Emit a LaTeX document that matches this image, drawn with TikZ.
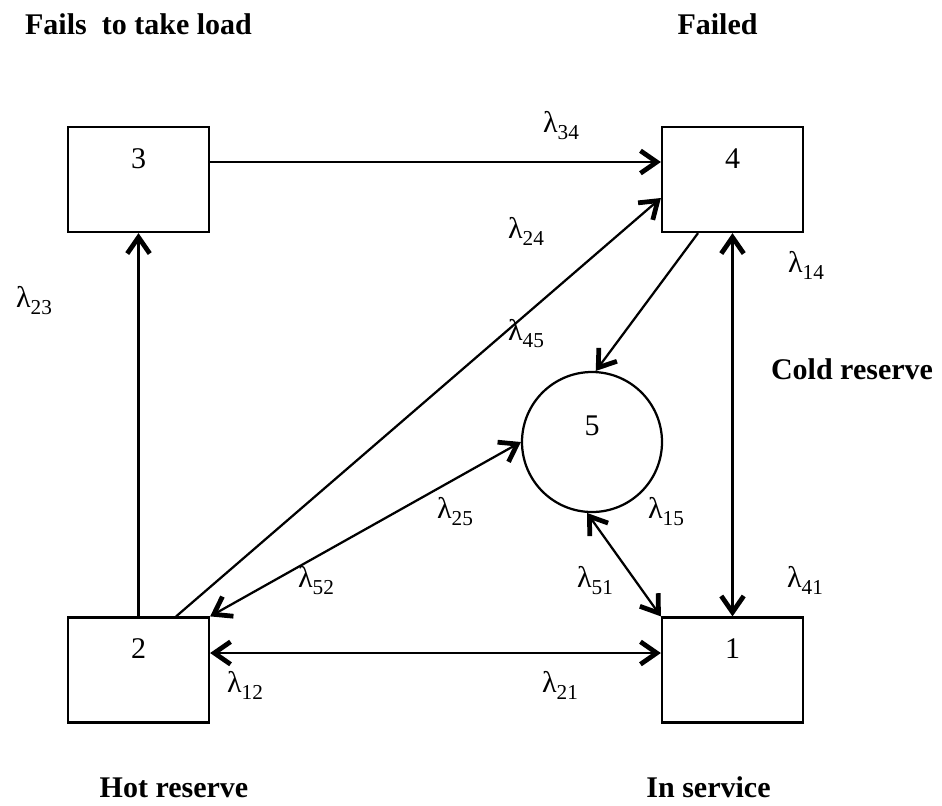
\documentclass[tikz,border=0pt]{standalone}
\usepackage{fontspec}
\setmainfont{Liberation Serif}
\usepackage{tikz}
\usetikzlibrary{arrows.meta}

\newcommand{\lam}[1]{λ\raisebox{-3pt}{\fontsize{8.5}{9}\selectfont #1}}

\begin{document}
\begin{tikzpicture}[x=4pt,y=-4pt,line width=0.9pt,
    font=\fontsize{12}{14}\selectfont,
    >={Straight Barb[length=6.5pt,width=9pt,line width=1.9pt]},
    state/.style={draw,rectangle,inner sep=0pt,minimum width=56.4pt,
        minimum height=42pt,text height=16.4pt,text depth=25.6pt},
    absorb/.style={draw,circle,inner sep=0pt,minimum size=56pt,
        text height=8pt,text depth=13.6pt},
    rate/.style={anchor=base west,inner sep=0pt},
    title/.style={anchor=base,inner sep=0pt,font=\fontsize{12}{14}\selectfont\bfseries}]
            \useasboundingbox (0,0) rectangle (94.2,80.5);
            \node[state] (s3) at (13.85,17.95) {3};
            \node[state] (s4) at (73.25,17.95) {4};
            \node[state] (s2) at (13.85,67) {2};
            \node[state] (s1) at (73.25,67) {1};
            \node[absorb] (s5) at (59.2,44.2) {5};
            \draw[->] ([yshift=7pt]s3.east) -- ([yshift=7pt]s4.west);
            \draw[->] (s2.north) -- (s3.south);
            \draw[<->] ([yshift=6.8pt]s2.east) -- ([yshift=6.8pt]s1.west);
            \draw[<->] (s1.north) -- (s4.south);
            \draw[->] ([xshift=-13.6pt]s2.north east) -- ([yshift=-7.4pt]s4.west);
            \draw[->] ([xshift=-13.8pt]s4.south) -- (s5.87);
            \draw[<->] (s2.north east) -- (s5.west);
            \draw[<->] (s5.266) -- (s1.north west);
            \node[rate] (l23) at (1.5,30.7) {\lam{23}};
            \node[rate] (l34) at (54.2,13.2) {\lam{34}};
            \node[rate] (l24) at (50.7,23.8) {\lam{24}};
            \node[rate] (l14) at (78.7,27.2) {\lam{14}};
            \node[rate] (l45) at (50.7,34.0) {\lam{45}};
            \node[rate] (l15) at (64.7,51.8) {\lam{15}};
            \node[rate] (l51) at (57.6,58.7) {\lam{51}};
            \node[rate] (l41) at (78.6,58.7) {\lam{41}};
            \node[rate] (l25) at (43.6,51.8) {\lam{25}};
            \node[rate] (l52) at (29.7,58.7) {\lam{52}};
            \node[rate] (l12) at (22.6,69.2) {\lam{12}};
            \node[rate] (l21) at (54.1,69.2) {\lam{21}};
            \node[title] (fail3) at (13.85,3.4) {Fails\ \ to take load};
            \node[title] (fail4) at (71.75,3.4) {Failed};
            \node[title] (cold) at (85.2,37.9) {Cold reserve};
            \node[title] (hot) at (17.4,79.7) {Hot reserve};
            \node[title] (serv) at (70.85,79.7) {In service};
        \end{tikzpicture}
\end{document}
